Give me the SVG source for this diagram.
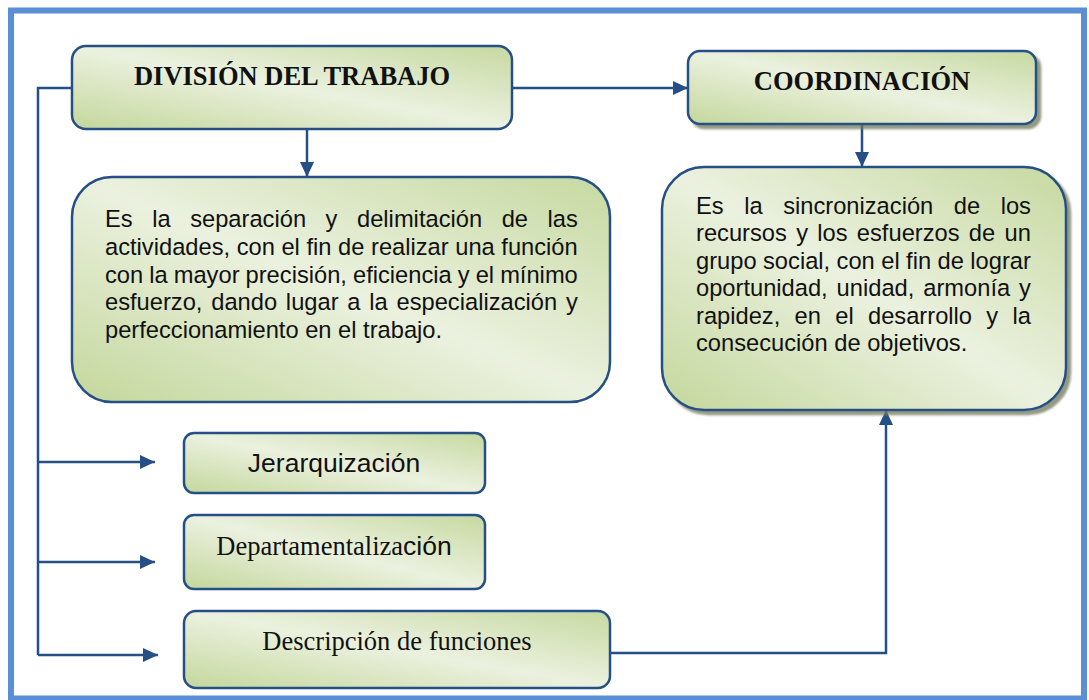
<svg xmlns="http://www.w3.org/2000/svg" width="1089" height="700" viewBox="0 0 1089 700">
<defs>
<linearGradient id="g" x1="0" y1="1" x2="1" y2="0">
<stop offset="0" stop-color="#C4D79C"/>
<stop offset="0.5" stop-color="#EBF1DF"/>
<stop offset="1" stop-color="#C6D9A0"/>
</linearGradient>
<filter id="sh" x="-5%" y="-5%" width="115%" height="120%">
<feDropShadow dx="4" dy="4" stdDeviation="1" flood-color="#6E7858" flood-opacity="0.75"/>
</filter>
<marker id="ah" markerUnits="userSpaceOnUse" markerWidth="16" markerHeight="16" refX="15" refY="7" orient="auto">
<path d="M0,0 L15,7 L0,14 Z" fill="#264F86"/>
</marker>
</defs>
<style>
.box{fill:url(#g);stroke:#264F86;stroke-width:2.5}
.ln{fill:none;stroke:#264F86;stroke-width:2.5}
.ttl{font-family:"Liberation Serif","Times New Roman",serif;font-weight:bold;font-size:26.5px;fill:#111}
.ser{font-family:"Liberation Serif","Times New Roman",serif;font-size:26.5px;fill:#111}
.san{font-family:"Liberation Sans",Arial,sans-serif;fill:#111}
.desc{font-family:"Liberation Sans",Arial,sans-serif;font-size:23.7px;fill:#111}
</style>
<rect x="11" y="10.5" width="1073" height="688" fill="#fff" stroke="#5A8ED6" stroke-width="6"/>

<g id="connectors">
<polyline class="ln" points="72,88 38,88 38,655"/>
<line class="ln" x1="38" y1="462" x2="155" y2="462" marker-end="url(#ah)"/>
<line class="ln" x1="38" y1="562" x2="155" y2="562" marker-end="url(#ah)"/>
<line class="ln" x1="38" y1="655" x2="158" y2="655" marker-end="url(#ah)"/>
<line class="ln" x1="512" y1="88" x2="688" y2="88" marker-end="url(#ah)"/>
<line class="ln" x1="307" y1="129" x2="307" y2="177" marker-end="url(#ah)"/>
<line class="ln" x1="862" y1="124" x2="862" y2="167" marker-end="url(#ah)"/>
<polyline class="ln" points="610,653 886,653 886,410" marker-end="url(#ah)"/>
</g>

<g id="division">
<rect class="box" x="72" y="46" width="440" height="83" rx="14"/>
<text class="ttl" x="292" y="85" text-anchor="middle">DIVISIÓN DEL TRABAJO</text>
</g>

<g id="coordinacion">
<rect class="box" x="688" y="51" width="348" height="73" rx="12" filter="url(#sh)"/>
<text class="ttl" x="862" y="90" text-anchor="middle">COORDINACIÓN</text>
</g>

<g id="division-desc">
<rect class="box" x="72" y="177" width="538" height="225" rx="40"/>
<text class="desc">
<tspan x="105" y="227" word-spacing="12.97">Es la separación y delimitación de las</tspan>
<tspan x="105" y="254.8">actividades, con el fin de realizar una función</tspan>
<tspan x="105" y="282.6" word-spacing="-0.54">con la mayor precisión, eficiencia y el mínimo</tspan>
<tspan x="105" y="310.4" word-spacing="2.2">esfuerzo, dando lugar a la especialización y</tspan>
<tspan x="105" y="338.2">perfeccionamiento en el trabajo.</tspan>
</text>
</g>

<g id="coordinacion-desc">
<rect class="box" x="662" y="167" width="404" height="243" rx="42" filter="url(#sh)"/>
<text class="desc">
<tspan x="696" y="213.5" word-spacing="13.95">Es la sincronización de los</tspan>
<tspan x="696" y="241" word-spacing="2.72">recursos y los esfuerzos de un</tspan>
<tspan x="696" y="268.5" word-spacing="-0.15">grupo social, con el fin de lograr</tspan>
<tspan x="696" y="296" word-spacing="2.33">oportunidad, unidad, armonía y</tspan>
<tspan x="696" y="323.5" word-spacing="7.73">rapidez, en el desarrollo y la</tspan>
<tspan x="696" y="351">consecución de objetivos.</tspan>
</text>
</g>

<g id="jerarquizacion">
<rect class="box" x="184" y="433" width="301" height="60" rx="10"/>
<text class="san" x="334" y="472" font-size="26.5" text-anchor="middle">Jerarquización</text>
</g>

<g id="departamentalizacion">
<rect class="box" x="184" y="515" width="301" height="74" rx="10"/>
<text x="334" y="555" text-anchor="middle"><tspan class="ser">Departamentaliza</tspan><tspan class="san" font-size="26.5">ción</tspan></text>
</g>

<g id="descripcion">
<rect class="box" x="184" y="611" width="426" height="77" rx="12"/>
<text class="ser" x="397" y="650" text-anchor="middle">Descripción de funciones</text>
</g>
</svg>
